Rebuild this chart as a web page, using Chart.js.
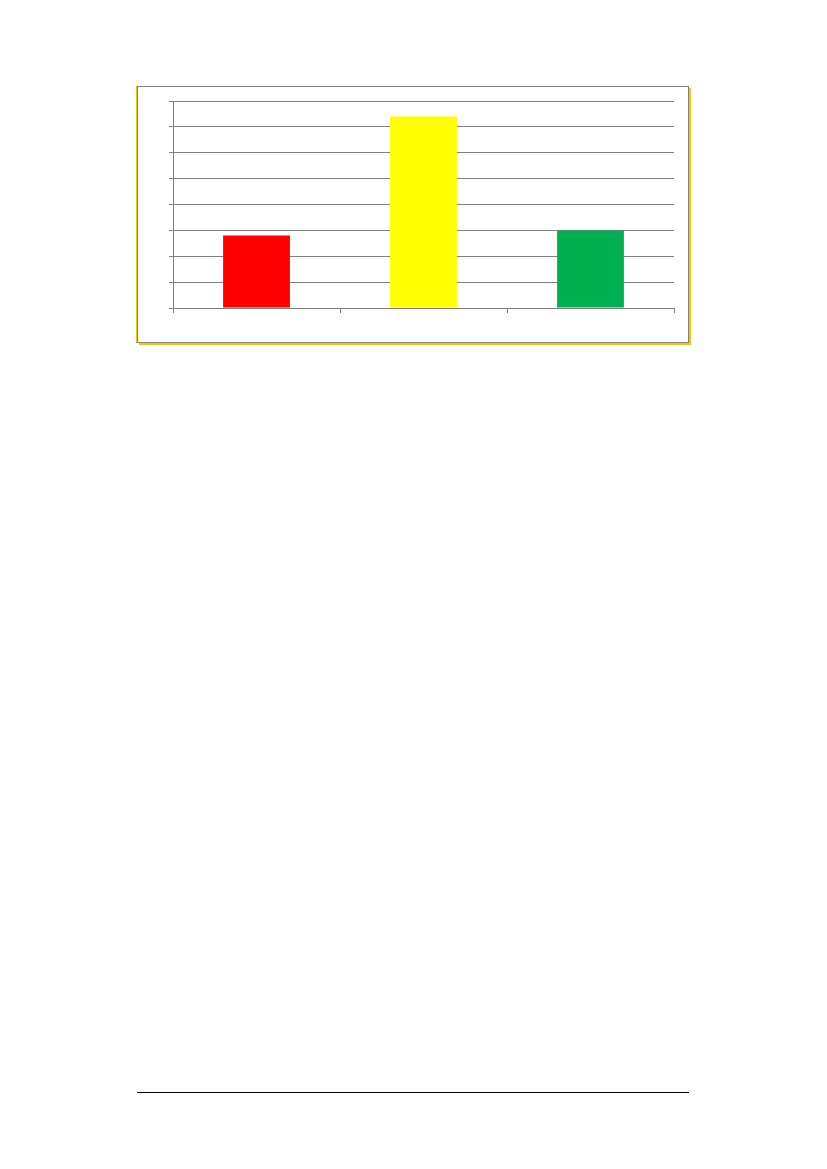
<!DOCTYPE html>
<html lang="en">
<head>
<meta charset="UTF-8">
<title>Bar chart</title>
<script src="https://cdn.jsdelivr.net/npm/chart.js"></script>
<style>
    html, body { margin: 0; padding: 0; background: #fff; }
    body { width: 827px; height: 1169px; position: relative; overflow: hidden; }
    .moldura {
        position: absolute; left: 137px; top: 86px; width: 550px; height: 255px;
        border: 1px solid #808080;
        box-shadow: -1px 0 0 #f5c000, 2px 2px 0 #ffc000;
    }
    .grafico { position: absolute; left: 137px; top: 86px; width: 552px; height: 257px; }
    .rodape { position: absolute; left: 137px; top: 1092px; width: 552px; height: 1px; background: #000; }
</style>
</head>
<body>
    <div class="moldura"></div>
    <div class="grafico"><canvas id="myChartCanvas"></canvas></div>
    <div class="rodape"></div>

<script>
    // dados (sem rotulos visiveis)
    const categorias = ["1", "2", "3"];
    const valores = [2.8, 7.4, 3.0];
    const cores = ["#ff0000", "#ffff00", "#00b050"];
    const eixoMin = 0;
    const eixoMax = 8;
    const passo = 1;

    let ctx = document.getElementById("myChartCanvas").getContext("2d");

    let myChart = new Chart(ctx, {
        type: 'bar',
        data: {
            labels: categorias,
            datasets: [{
                data: valores,
                backgroundColor: cores,
                borderWidth: 0,
                barPercentage: 0.4,
                categoryPercentage: 1
            }]
        },
        options: {
            responsive: true,
            maintainAspectRatio: false,
            animation: false,
            layout: { padding: { left: 30, top: 15, right: 15, bottom: 29 } },
            plugins: { legend: { display: false }, tooltip: { enabled: false } },
            scales: {
                x: {
                    offset: true,
                    grid: { offset: true, drawOnChartArea: false, drawTicks: true, tickLength: 5, color: '#808080' },
                    border: { color: '#808080' },
                    ticks: { display: false },
                    afterFit: function (s) { s.height = 6; }
                },
                y: {
                    min: eixoMin,
                    max: eixoMax,
                    ticks: { display: false, stepSize: passo },
                    grid: { color: '#808080', tickLength: 4, drawTicks: true },
                    border: { color: '#808080' },
                    afterFit: function (s) { s.width = 6; }
                }
            }
        }
    });
</script>
</body>
</html>
